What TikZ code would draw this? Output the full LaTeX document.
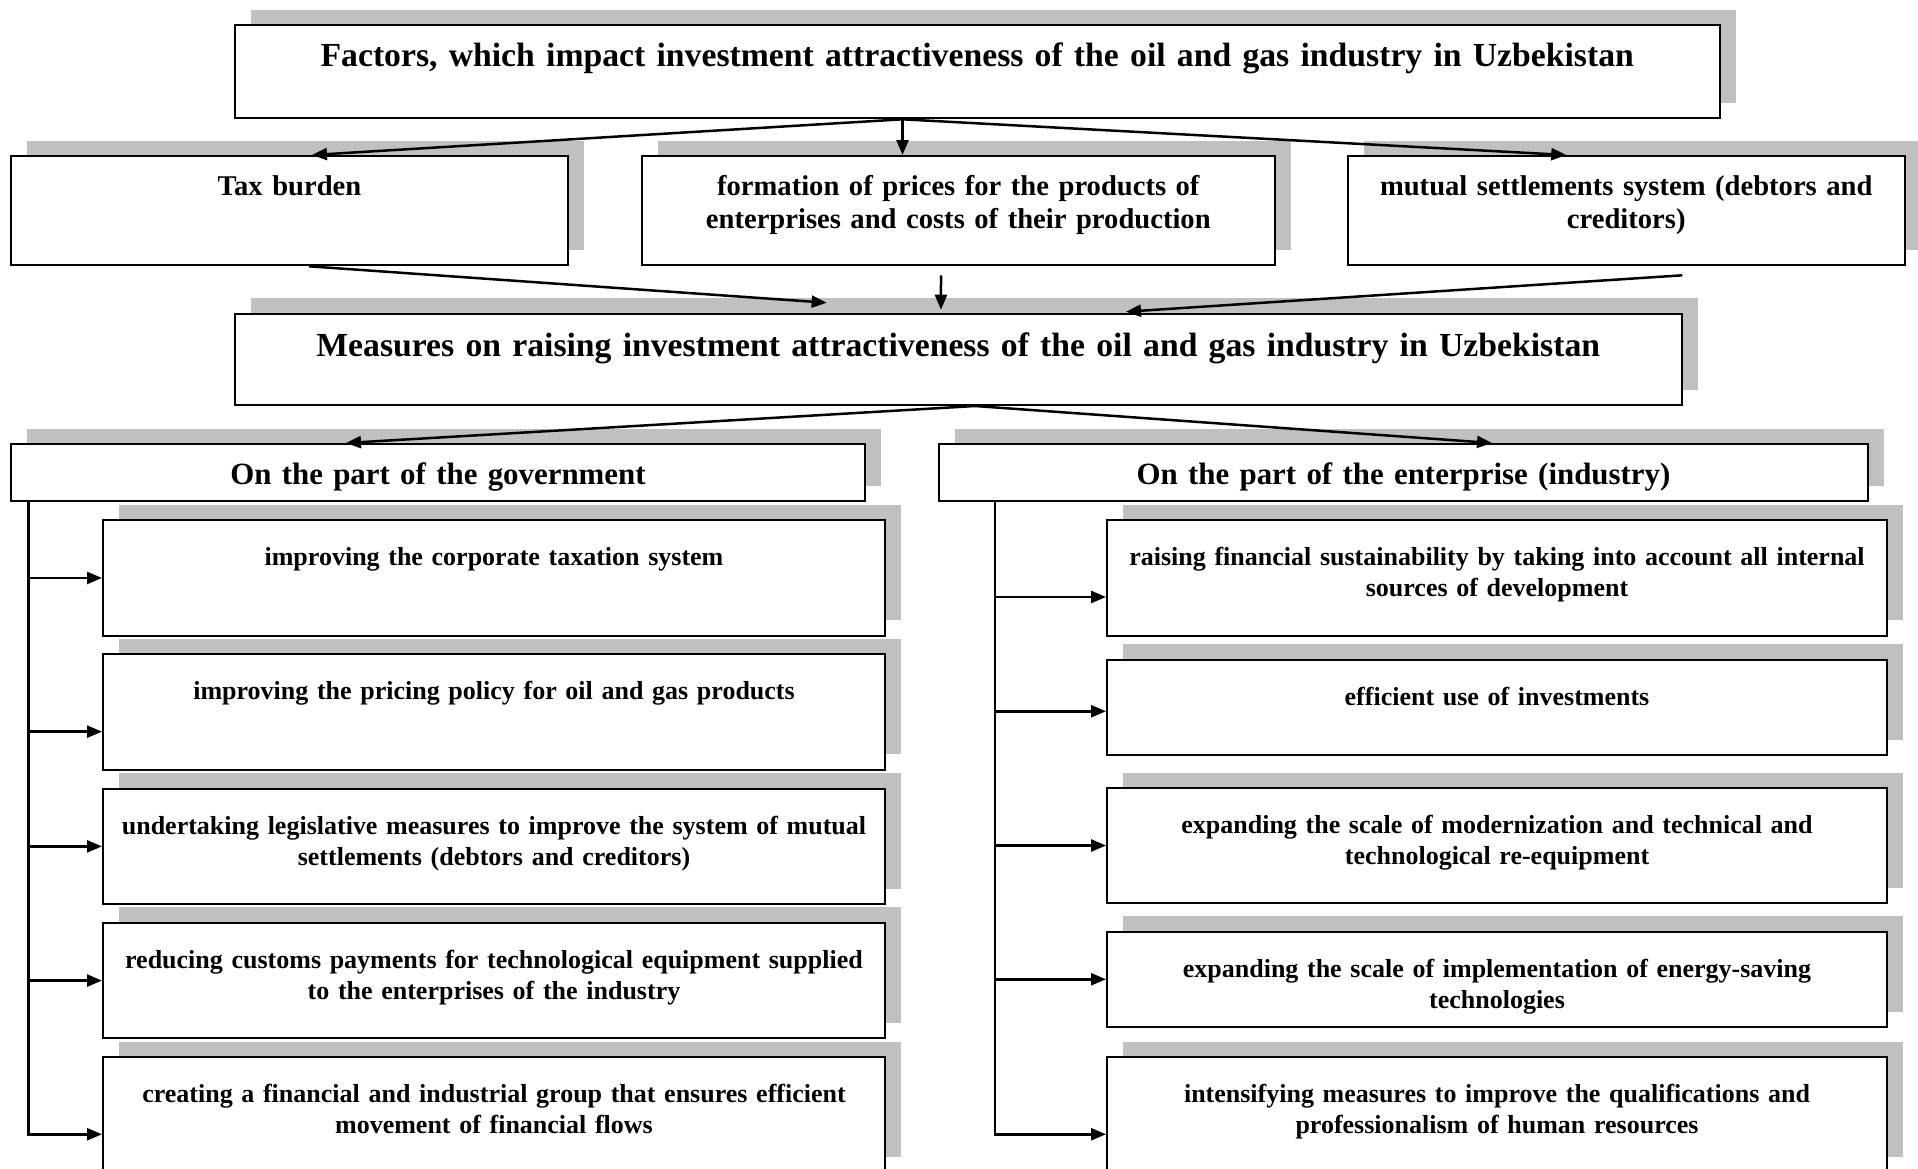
\documentclass[tikz,border=0pt]{standalone}
\usepackage{fontspec}
\setmainfont{Liberation Serif}
\usepackage{tikz}
\usetikzlibrary{arrows.meta,positioning,shadows}
\definecolor{shadowGray}{HTML}{C0C0C0}

\begin{document}
\begin{tikzpicture}[
  x=1pt, y=-1pt,
  font=\bfseries,
  box/.style={draw=black, line width=2pt, fill=white, anchor=north,
              align=center, inner xsep=6pt, inner ysep=0pt,
              drop shadow={shadow xshift=16pt, shadow yshift=15.5pt, fill=shadowGray, opacity=1}},
  title/.style={box, font=\bfseries\fontsize{33.7}{40}\selectfont},
  factor/.style={box, font=\bfseries\fontsize{28.6}{33.5}\selectfont, text height=39.3pt, text depth=70pt},
  side/.style={box, font=\bfseries\fontsize{30.9}{37}\selectfont, text height=40.5pt, text depth=16.5pt},
  sub/.style={box, font=\bfseries\fontsize{26}{31}\selectfont, text height=45.5pt, text depth=70pt},
  subshort/.style={sub, text depth=50pt},
  arr/.style={-{Triangle[length=15pt,width=12pt]}, line width=2.5pt}
]
  \useasboundingbox (0,0) rectangle (1918,1168);
  \fill[white] (0,0) rectangle (1918,1168);

  % factors
  \node[title, text width=1473.5pt, text height=41pt, text depth=52.3pt] (fac) at (977.25,24)
    {Factors, which impact investment attractiveness of the oil and gas industry in Uzbekistan};
  \node[factor, text width=545pt] (tax) at (289.5,155) {Tax burden};
  \node[factor, text width=620.6pt] (form) at (958.3,155)
    {formation of prices for the products of\\enterprises and costs of their production};
  \node[factor, text width=545.5pt] (mut) at (1626.25,155)
    {mutual settlements system (debtors and\\creditors)};

  % measures
  \node[title, text width=1435.5pt, text height=42.3pt, text depth=49pt] (meas) at (958.25,312.7)
    {Measures on raising investment attractiveness of the oil and gas industry in Uzbekistan};
  \node[side, text width=842pt] (gov) at (438,443) {On the part of the government};
  \node[side, text width=917pt] (ent) at (1403.5,443) {On the part of the enterprise (industry)};

  % government
  \node[sub, text width=770pt] (g1) at (494,519.2) {improving the corporate taxation system};
  \node[sub, text width=770pt, below=16.7pt of g1] (g2) {improving the pricing policy for oil and gas products};
  \node[sub, text width=770pt, below=16.7pt of g2] (g3)
    {undertaking legislative measures to improve the system of mutual\\settlements (debtors and creditors)};
  \node[sub, text width=770pt, below=16.7pt of g3] (g4)
    {reducing customs payments for technological equipment supplied\\to the enterprises of the industry};
  \node[sub, text width=770pt, below=16.7pt of g4] (g5)
    {creating a financial and industrial group that ensures efficient\\movement of financial flows};

  % enterprise
  \node[sub, text width=768pt] (e1) at (1497,519.2)
    {raising financial sustainability by taking into account all internal\\sources of development};
  \node[subshort, text width=768pt, below=21.8pt of e1] (e2) {efficient use of investments};
  \node[sub, text width=768pt, text depth=69.5pt, below=31pt of e2] (e3)
    {expanding the scale of modernization and technical and\\technological re-equipment};
  \node[subshort, text width=768pt, below=26.5pt of e3] (e4)
    {expanding the scale of implementation of energy-saving\\technologies};
  \node[sub, text width=768pt, below=28pt of e4] (e5)
    {intensifying measures to improve the qualifications and\\professionalism of human resources};

  % connectors
  \coordinate (fo) at ([xshift=-74.75pt]fac.south);
  \draw[arr] (fo) -- ([xshift=22.5pt]tax.north);
  \draw[arr] (fo) -- (fo |- form.north);
  \draw[arr] (fo) -- ([xshift=-60pt]mut.north);

  \draw[arr] ([xshift=19.5pt]tax.south) -- ([xshift=-131.6pt,yshift=10pt]meas.north);
  \draw[arr] ([xshift=-17.3pt,yshift=-9pt]form.south) -- ([xshift=-17.3pt,yshift=3pt]meas.north);
  \draw[arr] ([xshift=56pt,yshift=-9pt]mut.south) -- ([xshift=167.75pt,yshift=1pt]meas.north);

  \coordinate (mo) at ([xshift=16.75pt]meas.south);
  \draw[arr] (mo) -- ([xshift=-92pt]gov.north);
  \draw[arr] (mo) -- ([xshift=88.5pt]ent.north);

  \coordinate (gt) at ([xshift=18.4pt]gov.south west);
  \draw[arr] (gt) |- ([yshift=-19.5pt]g5.west);
  \draw[arr] (gt |- g1.west) -- (g1.west);
  \coordinate (g2in) at ([yshift=-19.5pt]g2.west);
  \draw[arr] (gt |- g2in) -- (g2in);
  \draw[arr] (gt |- g3.west) -- (g3.west);
  \draw[arr] (gt |- g4.west) -- (g4.west);

  \coordinate (et) at ([xshift=57pt]ent.south west);
  \draw[arr] (et) |- ([yshift=-19.5pt]e5.west);
  \coordinate (e1in) at ([yshift=-19pt]e1.west);
  \draw[arr] (et |- e1in) -- (e1in);
  \coordinate (e2in) at ([yshift=-4pt]e2.west);
  \draw[arr] (et |- e2in) -- (e2in);
  \draw[arr] (et |- e3.west) -- (e3.west);
  \draw[arr] (et |- e4.west) -- (e4.west);
\end{tikzpicture}
\end{document}
